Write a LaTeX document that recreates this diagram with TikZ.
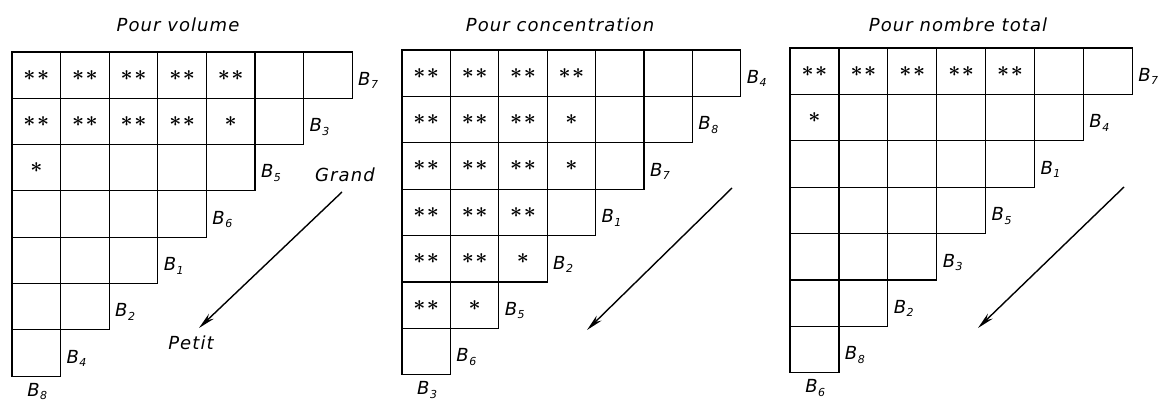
\documentclass[tikz,border=0pt]{standalone}
\usepackage{fontspec}
\setmainfont{DejaVu Sans}[LetterSpace=6]
\usetikzlibrary{arrows.meta}

\newcommand{\Bsub}[1]{B\kern0.5pt\raisebox{-3.5pt}{\fontsize{11}{11}\selectfont #1}}
\newcommand{\onestar}{\scalebox{2.1}{\boldmath$\mathord{\ast}$}}
\newcommand{\dstar}{\onestar\kern1.5pt\onestar}
\newcommand{\sstar}{\onestar}

\begin{document}
\begin{tikzpicture}[
    x=1pt, y=-1pt,
    >={Stealth[length=17pt, width=7pt]},
    cellgrid/.style={line width=1.2pt},
    lbl/.style={font=\fontsize{18}{20}\selectfont\itshape, inner sep=0pt},
    ttl/.style={font=\fontsize{18}{20}\selectfont\itshape},
    marks/.style={font=\fontsize{10}{10}\selectfont, inner sep=0pt},
    trend/.style={->, line width=1.4pt},
]
\useasboundingbox (0,0) rectangle (1167,403);

% --- Pour volume
\node[ttl] (vol-title) at (178,25) {Pour volume};
\begin{scope}[shift={(12,52)}, x=48.6pt, y=-46.3pt]
\foreach \r [evaluate=\r as \m using int(6-\r)] in {0,...,6}
    \foreach \c in {0,...,\m}
        \draw[cellgrid] (\c,\r) rectangle ++(1,1);
\foreach \lab [count=\r from 0] in {7,3,5,6,1,2,4}
    \node[lbl, anchor=base west] (vol-b\lab) at (7.12-\r, \r+0.72) {\Bsub{\lab}};
\node[lbl, anchor=base west] (vol-b8) at (0.31, 7.43) {\Bsub{8}};
\foreach \c/\r [count=\i] in {0/0,1/0,2/0,3/0,4/0,0/1,1/1,2/1,3/1}
    \node[marks] (vol-d\i) at (\c+0.5, \r+0.5) {\dstar};
\foreach \c/\r [count=\i] in {4/1,0/2}
    \node[marks] (vol-s\i) at (\c+0.5, \r+0.5) {\sstar};
\end{scope}
\node[lbl] (grand) at (345,175) {Grand};
\node[lbl] (petit) at (191,343) {Petit};
\coordinate (vol-from) at (342,192);
\coordinate (vol-to) at (199,328);
\draw[trend] (vol-from) -- (vol-to);

% --- Pour concentration
\node[ttl] (conc-title) at (560,25) {Pour concentration};
\begin{scope}[shift={(402,50)}, x=48.4pt, y=-46.4pt]
\foreach \r [evaluate=\r as \m using int(6-\r)] in {0,...,6}
    \foreach \c in {0,...,\m}
        \draw[cellgrid] (\c,\r) rectangle ++(1,1);
\foreach \lab [count=\r from 0] in {4,8,7,1,2,5,6}
    \node[lbl, anchor=base west] (conc-b\lab) at (7.12-\r, \r+0.72) {\Bsub{\lab}};
\node[lbl, anchor=base west] (conc-b3) at (0.31, 7.43) {\Bsub{3}};
\foreach \c/\r [count=\i] in {0/0,1/0,2/0,3/0,0/1,1/1,2/1,0/2,1/2,2/2,
                               0/3,1/3,2/3,0/4,1/4,0/5}
    \node[marks] (conc-d\i) at (\c+0.5, \r+0.5) {\dstar};
\foreach \c/\r [count=\i] in {3/1,3/2,2/4,1/5}
    \node[marks] (conc-s\i) at (\c+0.5, \r+0.5) {\sstar};
\end{scope}
\coordinate (conc-from) at (732,188);
\coordinate (conc-to) at (587,330);
\draw[trend] (conc-from) -- (conc-to);

% --- Pour nombre total
\node[ttl] (tot-title) at (958,25) {Pour nombre total};
\begin{scope}[shift={(790,48)}, x=48.9pt, y=-46.4pt]
\foreach \r [evaluate=\r as \m using int(6-\r)] in {0,...,6}
    \foreach \c in {0,...,\m}
        \draw[cellgrid] (\c,\r) rectangle ++(1,1);
\foreach \lab [count=\r from 0] in {7,4,1,5,3,2,8}
    \node[lbl, anchor=base west] (tot-b\lab) at (7.12-\r, \r+0.72) {\Bsub{\lab}};
\node[lbl, anchor=base west] (tot-b6) at (0.31, 7.43) {\Bsub{6}};
\foreach \c/\r [count=\i] in {0/0,1/0,2/0,3/0,4/0}
    \node[marks] (tot-d\i) at (\c+0.5, \r+0.5) {\dstar};
\node[marks] (tot-s1) at (0.5, 1.5) {\sstar};
\end{scope}
\coordinate (tot-from) at (1124,187);
\coordinate (tot-to) at (978,328);
\draw[trend] (tot-from) -- (tot-to);
\end{tikzpicture}
\end{document}
